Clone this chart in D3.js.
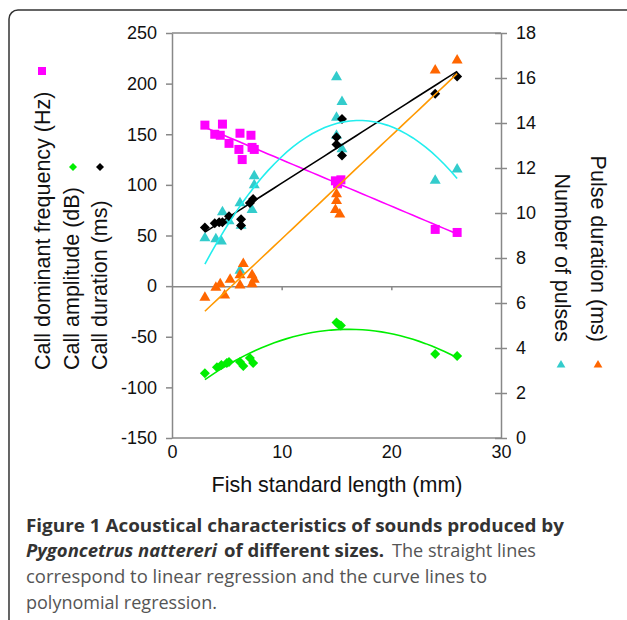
<!DOCTYPE html>
<html>
<head>
<meta charset="utf-8">
<script src="https://cdn.jsdelivr.net/npm/d3@7"></script>
<style>
  body { margin: 0; background: #fff; }
  svg { display: block; }
</style>
</head>
<body>
<svg width="627" height="620"></svg>
<script>
const width = 627;
const height = 620;

// Values: [fish length (mm), value]
const callFrequency = [[3.0,159],[3.9,150],[4.4,149],[4.6,160],[5.2,141],[6.2,151],[6.1,135],[6.4,125],
    [7.2,149],[7.3,137],[7.5,135],[14.9,104],[15.1,101],[15.4,105],[24.0,56],[26.0,53]];
const callDuration = [[3.0,58],[3.9,62],[4.3,63],[4.6,63],[5.2,69],[6.3,66],[6.3,60],[7.1,82],[7.4,86],
    [15.0,147],[15.0,140],[15.5,129],[15.5,165],[24.0,190],[26.0,207]];
const callAmplitude = [[3.0,-86],[4.1,-80],[4.5,-78],[5.0,-76],[5.2,-75],[6.2,-75],[6.5,-79],[7.1,-71],
    [7.4,-76],[15.0,-36],[15.2,-38],[15.4,-39],[24.0,-67],[26.0,-69]];
const pulseNumber = [[3.0,8.95],[4.0,8.9],[4.5,8.8],[4.6,10.1],[5.2,9.7],[6.2,10.5],[6.3,9.5],[6.2,7.5],
    [7.3,10.2],[7.5,11.7],[7.5,11.3],[15.0,16.1],[15.5,15.0],[15.0,14.3],[15.0,13.5],[15.5,12.9],
    [24.0,11.5],[26.0,12.0]];
const pulseDuration = [[3.0,6.3],[4.0,6.75],[4.4,6.9],[4.8,6.4],[5.3,7.1],[6.2,6.85],[6.5,7.8],[6.2,7.3],
    [7.3,7.3],[7.5,7.1],[7.3,6.9],[15.0,10.9],[15.0,10.6],[14.9,10.2],[15.3,10.0],[24.0,16.4],[26.0,16.85]];

const xTicks = [0, 10, 20, 30];
const leftTicks = [-150, -100, -50, 0, 50, 100, 150, 200, 250];
const rightTicks = [0, 2, 4, 6, 8, 10, 12, 14, 16, 18];

const svg = d3.select("svg");
const axisGray = "#888";
const chartFont = "'Liberation Sans', Arial, sans-serif";
const plain = d => String(d);   // keep a plain hyphen for negatives, as in the original

// outer rounded frame of the figure
svg.append("rect")
    .attr("x", 9).attr("y", 10)
    .attr("width", 700).attr("height", 700)
    .attr("rx", 9)
    .attr("fill", "none")
    .attr("stroke", "#333")
    .attr("stroke-width", 1.5);

const x = d3.scaleLinear().domain([0, 30]).range([172, 501]);
const yL = d3.scaleLinear().domain([-150, 250]).range([438, 33]);
const yR = d3.scaleLinear().domain([0, 18]).range([438, 33]);

// frame top / bottom
[33, 438].forEach(function(yy) {
    svg.append("line")
        .attr("x1", 172).attr("x2", 501).attr("y1", yy).attr("y2", yy)
        .attr("stroke", axisGray).attr("stroke-width", 1.5);
});

// left axis
const gLeft = svg.append("g")
    .attr("transform", "translate(172,0)")
    .call(d3.axisLeft(yL).tickValues(leftTicks).tickFormat(plain).tickSize(6).tickSizeOuter(0).tickPadding(9));

// right axis with cross ticks
const gRight = svg.append("g")
    .attr("transform", "translate(501,0)")
    .call(d3.axisRight(yR).tickValues(rightTicks).tickFormat(plain).tickSize(6).tickSizeOuter(0).tickPadding(9));
gRight.selectAll(".tick line").attr("x1", -6);

// x axis through zero of the left scale
const gZero = svg.append("g")
    .attr("transform", `translate(0,${yL(0)})`)
    .call(d3.axisBottom(x).tickValues([10, 20]).tickSize(4).tickSizeOuter(0).tickFormat(""));

// x tick labels under the frame
const gBottom = svg.append("g")
    .attr("transform", "translate(0,438)")
    .call(d3.axisBottom(x).tickValues(xTicks).tickFormat(plain).tickSize(0).tickPadding(7));
gBottom.select(".domain").remove();

[gLeft, gRight, gZero, gBottom].forEach(function(g) {
    g.selectAll(".domain, .tick line").attr("stroke", axisGray).attr("stroke-width", 1.5);
    g.selectAll("text").attr("font-family", chartFont).attr("font-size", "18px").attr("fill", "#111");
});

// axis titles
svg.append("text")
    .attr("x", 337).attr("y", 492)
    .attr("text-anchor", "middle")
    .attr("font-family", chartFont).attr("font-size", "21.5px").attr("fill", "#111")
    .text("Fish standard length (mm)");

const leftTitles = [
    { text: "Call dominant frequency (Hz)", bx: 50 },
    { text: "Call amplitude (dB)", bx: 79 },
    { text: "Call duration (ms)", bx: 107 }
];
leftTitles.forEach(function(t) {
    svg.append("text")
        .attr("transform", `translate(${t.bx},370) rotate(-90)`)
        .attr("font-family", chartFont).attr("font-size", "21.5px").attr("fill", "#111")
        .text(t.text);
});

const rightTitles = [
    { text: "Number of pulses", bx: 555 },
    { text: "Pulse duration (ms)", bx: 591 }
];
rightTitles.forEach(function(t) {
    svg.append("text")
        .attr("transform", `translate(${t.bx},342) rotate(90)`)
        .attr("text-anchor", "end")
        .attr("font-family", chartFont).attr("font-size", "21.5px").attr("fill", "#111")
        .text(t.text);
});

// marker shapes
function squarePath(s) { return `M${-s},${-s}H${s}V${s}H${-s}Z`; }
function diamondPath(s) { return `M0,${-s}L${s},0L0,${s}L${-s},0Z`; }
function trianglePath(s) { return `M0,${-s}L${s * 1.1},${s * 0.9}L${-s * 1.1},${s * 0.9}Z`; }

function drawPoints(data, yScale, pathStr, color) {
    svg.append("g").selectAll("path")
        .data(data)
        .join("path")
        .attr("transform", d => `translate(${x(d[0])},${yScale(d[1])})`)
        .attr("d", pathStr)
        .attr("fill", color);
}

// least squares fits
function linearFit(data) {
    const mx = d3.mean(data, d => d[0]), my = d3.mean(data, d => d[1]);
    const b = d3.sum(data, d => (d[0] - mx) * (d[1] - my)) / d3.sum(data, d => (d[0] - mx) ** 2);
    return v => my + b * (v - mx);
}
function quadFit(data) {
    // normal equations for y = c0 + c1 x + c2 x^2
    const S = k => d3.sum(data, d => d[0] ** k);
    const T = k => d3.sum(data, d => d[1] * d[0] ** k);
    const A = [[S(0), S(1), S(2)], [S(1), S(2), S(3)], [S(2), S(3), S(4)]];
    const B = [T(0), T(1), T(2)];
    const det = m => m[0][0] * (m[1][1] * m[2][2] - m[1][2] * m[2][1])
        - m[0][1] * (m[1][0] * m[2][2] - m[1][2] * m[2][0])
        + m[0][2] * (m[1][0] * m[2][1] - m[1][1] * m[2][0]);
    const D = det(A);
    const c = [0, 1, 2].map(function(i) {
        const M = A.map((row, r) => row.map((v, col) => col === i ? B[r] : v));
        return det(M) / D;
    });
    return v => c[0] + c[1] * v + c[2] * v * v;
}

function drawFit(data, yScale, f, color) {
    const ext = d3.extent(data, d => d[0]);
    const xs = d3.range(0, 41).map(i => ext[0] + (ext[1] - ext[0]) * i / 40);
    svg.append("path")
        .datum(xs)
        .attr("fill", "none")
        .attr("stroke", color)
        .attr("stroke-width", 1.6)
        .attr("d", d3.line().x(v => x(v)).y(v => yScale(f(v))));
}

const cMagenta = "#ff00ff", cGreen = "#00ee00", cBlack = "#000000";
const cCyanPt = "#33cccc", cCyanLine = "#22eeee", cOrangePt = "#ff6600", cOrangeLine = "#ff9900";

drawPoints(pulseNumber, yR, trianglePath(5), cCyanPt);
drawPoints(pulseDuration, yR, trianglePath(5), cOrangePt);
drawPoints(callFrequency, yL, squarePath(4.5), cMagenta);
drawPoints(callAmplitude, yL, diamondPath(5), cGreen);
drawPoints(callDuration, yL, diamondPath(5), cBlack);

drawFit(callFrequency, yL, linearFit(callFrequency), cMagenta);
drawFit(callDuration, yL, linearFit(callDuration), cBlack);
drawFit(pulseDuration, yR, linearFit(pulseDuration), cOrangeLine);
drawFit(pulseNumber, yR, quadFit(pulseNumber), cCyanLine);
drawFit(callAmplitude, yL, quadFit(callAmplitude), cGreen);

// legend keys beside the axis titles
svg.append("path").attr("transform", "translate(42,71)").attr("d", squarePath(4)).attr("fill", cMagenta);
svg.append("path").attr("transform", "translate(73,167)").attr("d", diamondPath(4)).attr("fill", cGreen);
svg.append("path").attr("transform", "translate(100,167)").attr("d", diamondPath(4)).attr("fill", cBlack);
svg.append("path").attr("transform", "translate(561,364)").attr("d", trianglePath(4)).attr("fill", cCyanPt);
svg.append("path").attr("transform", "translate(598,364)").attr("d", trianglePath(4)).attr("fill", cOrangePt);

// caption
const capFont = "'Open Sans', 'Noto Sans', sans-serif";
const captionParts = [
    { text: "Figure 1 Acoustical characteristics of sounds produced by", x: 26, y: 532, len: 538, weight: "bold", style: "normal", fill: "#333" },
    { text: "Pygoncetrus nattereri", x: 26, y: 557, len: 191, weight: "bold", style: "italic", fill: "#333" },
    { text: "of different sizes.", x: 224, y: 557, len: 160, weight: "bold", style: "normal", fill: "#333" },
    { text: "The straight lines", x: 392, y: 557, len: 144, weight: "normal", style: "normal", fill: "#555" },
    { text: "correspond to linear regression and the curve lines to", x: 26, y: 583, len: 461, weight: "normal", style: "normal", fill: "#555" },
    { text: "polynomial regression.", x: 26, y: 609, len: 191, weight: "normal", style: "normal", fill: "#555" }
];
captionParts.forEach(function(p) {
    svg.append("text")
        .attr("x", p.x).attr("y", p.y)
        .attr("font-family", capFont).attr("font-size", "18px")
        .attr("font-weight", p.weight).attr("font-style", p.style)
        .attr("fill", p.fill)
        .attr("textLength", p.len).attr("lengthAdjust", "spacingAndGlyphs")
        .text(p.text);
});
</script>
</body>
</html>
